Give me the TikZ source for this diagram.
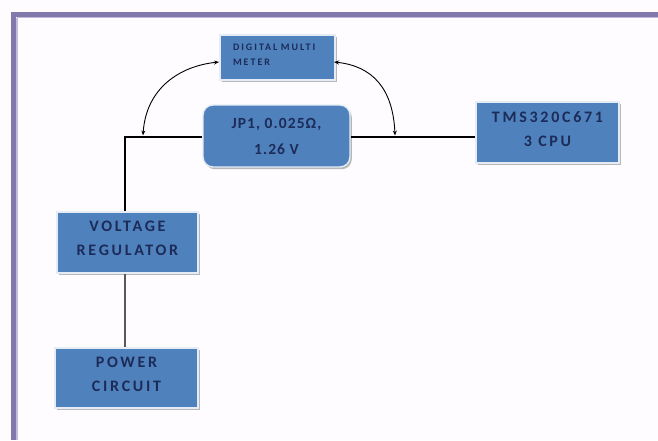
\documentclass[tikz,border=0pt]{standalone}
\usepackage{fontspec}
\setmainfont{Carlito}
\usetikzlibrary{shadows,arrows.meta}
\definecolor{boxblue}{HTML}{4F81BD}
\definecolor{boxtext}{HTML}{1C2B58}
\definecolor{frameout}{HTML}{8178AC}
\definecolor{framein}{HTML}{C2BBDD}
\definecolor{bgc}{HTML}{FEFCFE}
\tikzset{
  blk/.style={fill=boxblue, draw=white!85!boxblue, line width=1.4pt, text=boxtext,
    align=center, inner sep=0pt,
    drop shadow={shadow xshift=1.8pt, shadow yshift=-2.2pt, fill=gray!70, opacity=0.8},
    font=\fontsize{16}{24}\selectfont\bfseries\addfontfeature{LetterSpace=17}},
  wire/.style={line width=2pt, black},
  meas/.style={line width=0.9pt, black, {Stealth[length=5pt,width=4pt]}-{Stealth[length=5pt,width=4pt]}}
}
\begin{document}
\begin{tikzpicture}[x=1pt,y=-1pt]
\useasboundingbox (0,0) rectangle (658,440);
\fill[bgc] (0,0) rectangle (658,440);
% frame
\draw[frameout, line width=5pt] (13.5,14.5) -- (658,14.5);
\draw[frameout, line width=5pt] (13.5,12) -- (13.5,440);
\draw[framein, line width=1.5pt] (16.8,17.5) -- (658,17.5);
\draw[framein, line width=1.5pt] (16.8,17.5) -- (16.8,440);

\node[blk, minimum width=115pt, minimum height=45pt,
  font=\fontsize{10}{15}\selectfont\bfseries\addfontfeature{LetterSpace=20}, align=left,
  text width=89pt]
  (dmm) at (277.5,57.5) {DIGITAL MULTI\\METER\\[-9pt]\mbox{}};
\node[blk, rounded corners=10pt, minimum width=147pt, minimum height=62pt,
  font=\fontsize{15.5}{26}\selectfont\bfseries\addfontfeature{LetterSpace=7}] (jp1) at (276.5,136) {JP1, 0.025Ω,\\1.26 V};
\node[blk, minimum width=143pt, minimum height=61pt] (tms) at (547.5,132.5) {TMS320C671\\3 CPU\\[-17pt]\mbox{}};
\node[blk, minimum width=141pt, minimum height=61pt] (vr) at (127.5,242.5) {VOLTAGE\\REGULATOR\\[-16pt]\mbox{}};
\node[blk, minimum width=143pt, minimum height=60pt] (pc) at (126.5,378) {POWER\\CIRCUIT\\[-17pt]\mbox{}};

\coordinate (c) at (125,137);
\draw[wire] (jp1.west |- c) -- (c) -- (c |- vr.north);
\draw[wire, line width=1.5pt] (jp1.east |- c) -- (tms.west |- c);
\draw[line width=2pt, black!65] (vr.south -| c) -- (pc.north -| c);

\coordinate (ls) at (219,62);
\coordinate (rs) at (334,62);
\coordinate (lt) at (143,135.5);
\coordinate (rt) at (395,135.5);
\draw[meas] (ls) .. controls (180,66) and (146,88) .. (lt);
\draw[meas] (rs) .. controls (372,66) and (393,88) .. (rt);
\end{tikzpicture}
\end{document}
